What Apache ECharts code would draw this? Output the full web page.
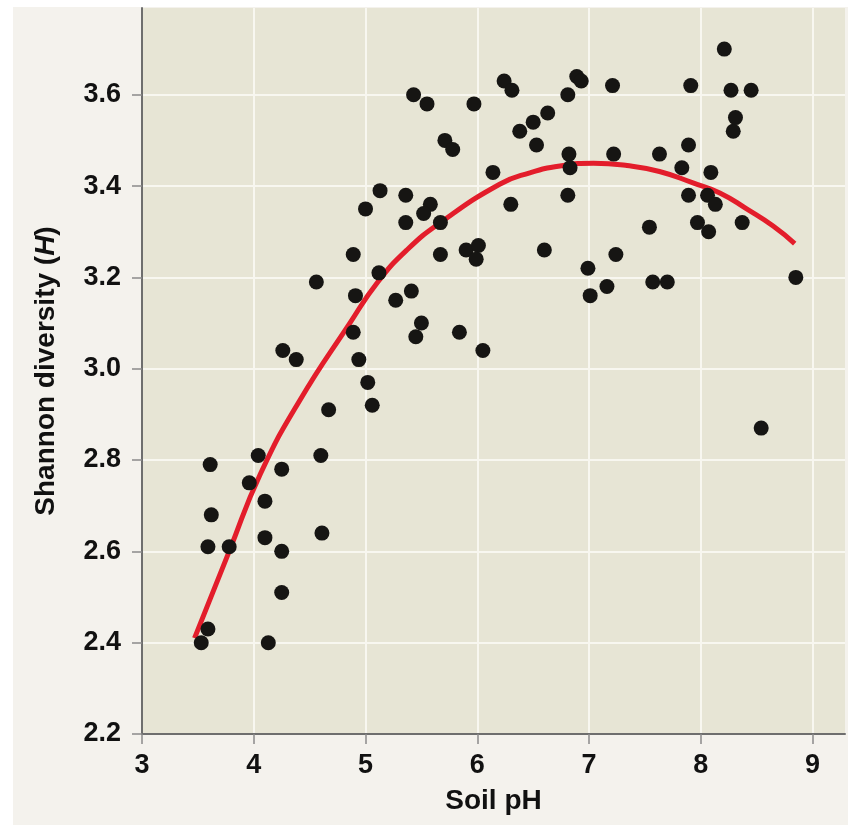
<!DOCTYPE html>
<html>
<head>
<meta charset="utf-8">
<title>Soil pH vs Shannon diversity</title>
<script src="https://cdn.jsdelivr.net/npm/echarts@6/dist/echarts.min.js"></script>
<style>
  body { margin: 0; background: #ffffff; }
  #pane { position: absolute; left: 13px; top: 7px; width: 835px; height: 818px; background: #f4f2ed; }
  #chart { position: absolute; left: 0; top: 0; width: 848px; height: 825px; }
</style>
</head>
<body>
<div id="pane"></div>
<div id="chart"></div>
<script>
// sampled sites: soil pH and Shannon diversity (H)
var sitePH = [
  3.53, 3.59, 3.59, 3.62, 3.61, 3.78, 3.96, 4.04, 4.10, 4.10,
  4.13, 4.25, 4.25, 4.25, 4.26, 4.38, 4.56, 4.60, 4.61, 4.67,
  4.89, 4.91, 4.89, 4.94, 5.02, 5.06, 5.00, 5.13, 5.12, 5.27,
  5.36, 5.36, 5.41, 5.50, 5.45, 5.43, 5.55, 5.58, 5.52, 5.67,
  5.67, 5.71, 5.78, 5.84, 5.90, 5.97, 6.01, 5.99, 6.05, 6.14,
  6.24, 6.31, 6.30, 6.38, 6.50, 6.53, 6.60, 6.63, 6.81, 6.82,
  6.83, 6.81, 6.89, 6.93, 6.99, 7.01, 7.16, 7.21, 7.22, 7.24,
  7.54, 7.57, 7.63, 7.70, 7.83, 7.89, 7.91, 7.89, 7.97, 8.06,
  8.07, 8.09, 8.13, 8.21, 8.27, 8.29, 8.31, 8.37, 8.45, 8.54,
  8.85
];
var siteH = [
  2.40, 2.43, 2.61, 2.68, 2.79, 2.61, 2.75, 2.81, 2.71, 2.63,
  2.40, 2.78, 2.60, 2.51, 3.04, 3.02, 3.19, 2.81, 2.64, 2.91,
  3.25, 3.16, 3.08, 3.02, 2.97, 2.92, 3.35, 3.39, 3.21, 3.15,
  3.38, 3.32, 3.17, 3.10, 3.07, 3.60, 3.58, 3.36, 3.34, 3.32,
  3.25, 3.50, 3.48, 3.08, 3.26, 3.58, 3.27, 3.24, 3.04, 3.43,
  3.63, 3.61, 3.36, 3.52, 3.54, 3.49, 3.26, 3.56, 3.60, 3.47,
  3.44, 3.38, 3.64, 3.63, 3.22, 3.16, 3.18, 3.62, 3.47, 3.25,
  3.31, 3.19, 3.47, 3.19, 3.44, 3.49, 3.62, 3.38, 3.32, 3.38,
  3.30, 3.43, 3.36, 3.70, 3.61, 3.52, 3.55, 3.32, 3.61, 2.87,
  3.20
];

// fitted curve
var fitPH = [3.47, 3.78, 4.06, 4.41, 4.86, 5.11, 5.37, 5.67, 6.20, 6.47, 6.74, 7.04, 7.34, 7.63, 7.93, 8.17, 8.41, 8.65, 8.84];
var fitH = [2.41, 2.60, 2.77, 2.93, 3.10, 3.19, 3.26, 3.32, 3.404, 3.429, 3.444, 3.45, 3.445, 3.432, 3.407, 3.385, 3.35, 3.312, 3.274];

// tick labels
var phTicks = [3, 4, 5, 6, 7, 8, 9];
var hTicks = [2.2, 2.4, 2.6, 2.8, 3.0, 3.2, 3.4, 3.6];

var points = sitePH.map(function (x, i) { return [x, siteH[i]]; });
var curve = fitPH.map(function (x, i) { return [x, fitH[i]]; });

var font = 'Liberation Sans, Arial, Helvetica, sans-serif';
var chart = echarts.init(document.getElementById('chart'));
chart.setOption({
  backgroundColor: 'transparent',
  animation: false,
  grid: {
    left: 142, top: 8, right: 3, bottom: 91,
    show: true, backgroundColor: '#e7e5d5', borderWidth: 0
  },
  xAxis: {
    type: 'value',
    min: 3, max: 9.29,
    name: 'Soil pH',
    nameLocation: 'middle',
    nameGap: 53,
    nameTextStyle: { fontFamily: font, fontWeight: 'bold', fontSize: 28, color: '#111' },
    axisLine: { show: true, lineStyle: { color: '#6e6e6e', width: 2 } },
    axisTick: { show: true, length: 10, customValues: phTicks, lineStyle: { color: '#8a8a8a', width: 1.5 } },
    axisLabel: {
      margin: 18, fontFamily: font, fontWeight: 'bold', fontSize: 27, color: '#111',
      customValues: phTicks,
      formatter: function (v) { return String(Math.round(v)); }
    },
    splitLine: { show: true, lineStyle: { color: '#f8f7f0', width: 2 } }
  },
  yAxis: {
    type: 'value',
    min: 2.2, max: 3.79,
    name: 'Shannon diversity ({i|H})',
    nameLocation: 'middle',
    nameGap: 82,
    nameTextStyle: {
      fontFamily: font, fontWeight: 'bold', fontSize: 28, color: '#111',
      rich: { i: { fontFamily: font, fontWeight: 'bold', fontStyle: 'italic', fontSize: 28, color: '#111' } }
    },
    axisLine: { show: true, lineStyle: { color: '#6e6e6e', width: 2 } },
    axisTick: { show: true, length: 10, customValues: hTicks, lineStyle: { color: '#8a8a8a', width: 1.5 } },
    axisLabel: {
      margin: 21, fontFamily: font, fontWeight: 'bold', fontSize: 27, color: '#111',
      customValues: hTicks,
      formatter: function (v) { return v.toFixed(1); }
    },
    splitLine: { show: true, lineStyle: { color: '#f8f7f0', width: 2 } }
  },
  series: [
    {
      type: 'line',
      data: curve,
      smooth: 0.5,
      showSymbol: false,
      lineStyle: { color: '#e31d2b', width: 5 },
      z: 2
    },
    {
      type: 'scatter',
      data: points,
      symbolSize: 15,
      itemStyle: { color: '#161513', opacity: 1 },
      z: 3
    }
  ]
});
</script>
</body>
</html>
